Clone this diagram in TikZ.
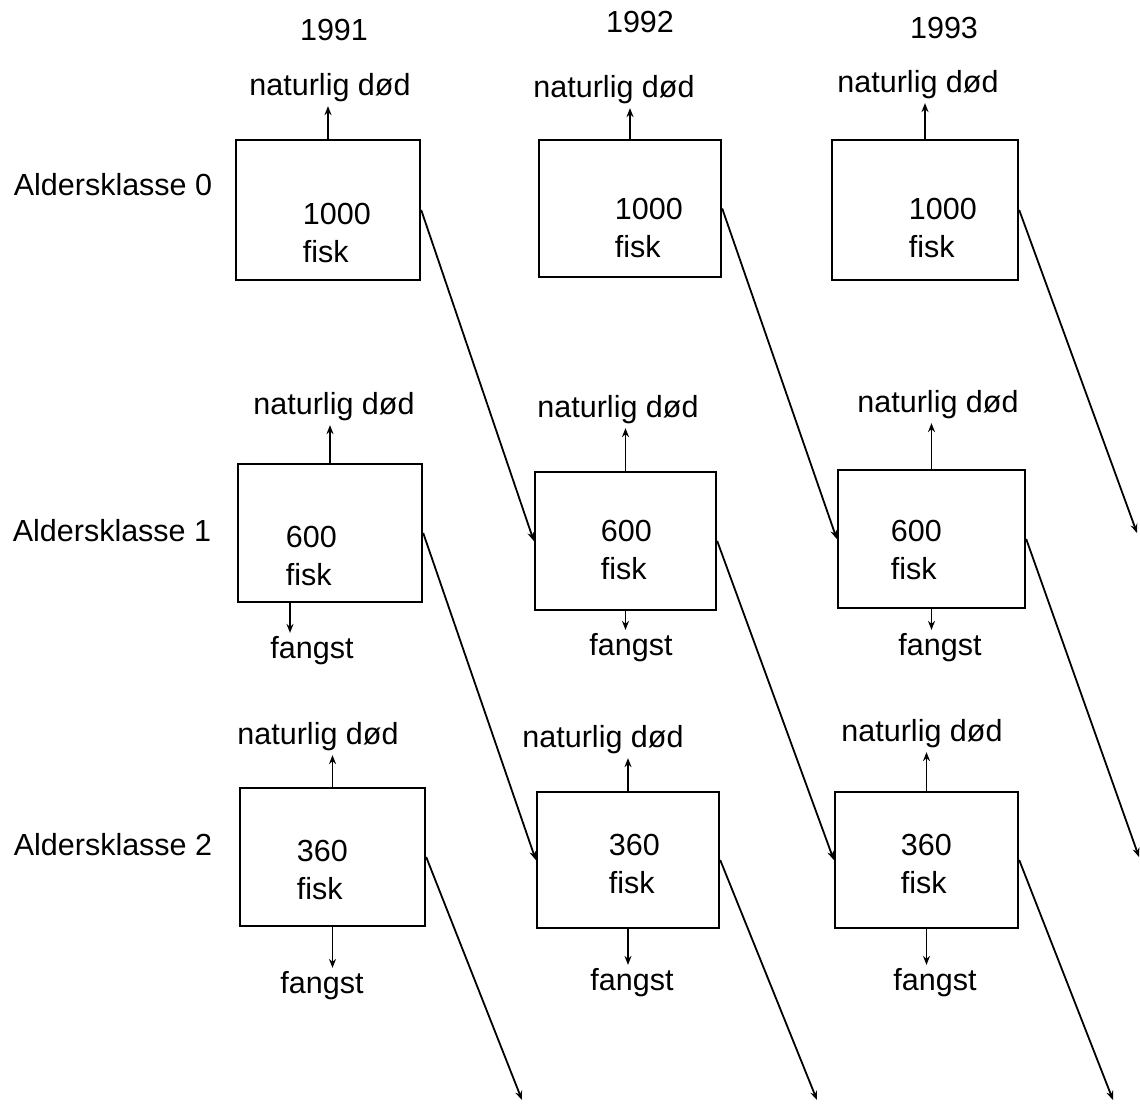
\documentclass[tikz,border=0pt]{standalone}
\usepackage{fontspec}
\setmainfont{Liberation Sans}
\usetikzlibrary{arrows.meta}

\begin{document}
\begin{tikzpicture}[x=1pt,y=-1pt,->,>={Stealth[length=9pt,width=7pt]},line width=1.8pt]
   \tikzstyle{every node}=[font=\fontsize{30.5}{38}\selectfont,inner sep=3pt]
   \tikzstyle{box}=[draw,rectangle,line width=2.4pt,inner sep=0pt]
   \tikzstyle{count}=[align=left,anchor=west,inner sep=0pt]
   \useasboundingbox (0,0) rectangle (1140,1105);

   % years
   \node (y1) at (334,30) {1991};
   \node (y2) at (640,22) {1992};
   \node (y3) at (944,28) {1993};

   % age classes
   \node (k0) at (113,185) {Aldersklasse 0};
   \node (k1) at (112,531) {Aldersklasse 1};
   \node (k2) at (113,845) {Aldersklasse 2};

   % boxes
   \node[box,minimum width=184pt,minimum height=140pt] (b00) at (328,210)   {};
   \node[box,minimum width=182pt,minimum height=137pt] (b01) at (630,208.5) {};
   \node[box,minimum width=186pt,minimum height=140pt] (b02) at (925,210)   {};
   \node[box,minimum width=184pt,minimum height=138pt] (b10) at (330,533)   {};
   \node[box,minimum width=181pt,minimum height=138pt] (b11) at (625.5,541) {};
   \node[box,minimum width=187pt,minimum height=138pt] (b12) at (931.5,539) {};
   \node[box,minimum width=185pt,minimum height=138pt] (b20) at (332.5,857) {};
   \node[box,minimum width=182pt,minimum height=136pt] (b21) at (628,860)   {};
   \node[box,minimum width=183pt,minimum height=136pt] (b22) at (926.5,860) {};

   % fish counts
   \node[count] (n00) at (302,233)   {1000\\fisk};
   \node[count] (n01) at (614,227.5) {1000\\fisk};
   \node[count] (n02) at (908,227.5) {1000\\fisk};
   \node[count] (n10) at (285,556)   {600\\fisk};
   \node[count] (n11) at (600,550)   {600\\fisk};
   \node[count] (n12) at (890,550)   {600\\fisk};
   \node[count] (n20) at (296,869.5) {360\\fisk};
   \node[count] (n21) at (608,864)   {360\\fisk};
   \node[count] (n22) at (900,864)   {360\\fisk};

   % natural death
   \node (d00) at (330,88)  {naturlig død};
   \node (d01) at (614,90)  {naturlig død};
   \node (d02) at (918,85)  {naturlig død};
   \node (d10) at (334,407) {naturlig død};
   \node (d11) at (618,410) {naturlig død};
   \node (d12) at (938,405) {naturlig død};
   \node (d20) at (318,737) {naturlig død};
   \node (d21) at (603,740) {naturlig død};
   \node (d22) at (922,734) {naturlig død};

   % catch
   \node (f10) at (312,651) {fangst};
   \node (f11) at (631,648) {fangst};
   \node (f12) at (940,648) {fangst};
   \node (f20) at (322,986) {fangst};
   \node (f21) at (632,983) {fangst};
   \node (f22) at (935,983) {fangst};

   % free ends
   \coordinate (e02) at (1137,533);
   \coordinate (e12) at (1139,857);
   \coordinate (e20) at (522,1100);
   \coordinate (e21) at (817,1100);
   \coordinate (e22) at (1113,1100);

   \foreach \b in {00,01,02,10,11,12,20,21,22}
      \path (b\b.north) edge (b\b.north |- d\b.south);

   \path ([xshift=-40pt]b10.south) edge ([xshift=-40pt]b10.south |- f10.north)
         (b11.south) edge (b11.south |- f11.north)
         (b12.south) edge (b12.south |- f12.north)
         (b20.south) edge (b20.south |- f20.north)
         (b21.south) edge (b21.south |- f21.north)
         (b22.south) edge (b22.south |- f22.north);

   \path (b00.east) edge (b11.west)
         (b01.east) edge (b12.west)
         (b02.east) edge (e02)
         (b10.east) edge (b21.west)
         (b11.east) edge (b22.west)
         (b12.east) edge (e12)
         (b20.east) edge (e20)
         (b21.east) edge (e21)
         (b22.east) edge (e22);
\end{tikzpicture}
\end{document}
